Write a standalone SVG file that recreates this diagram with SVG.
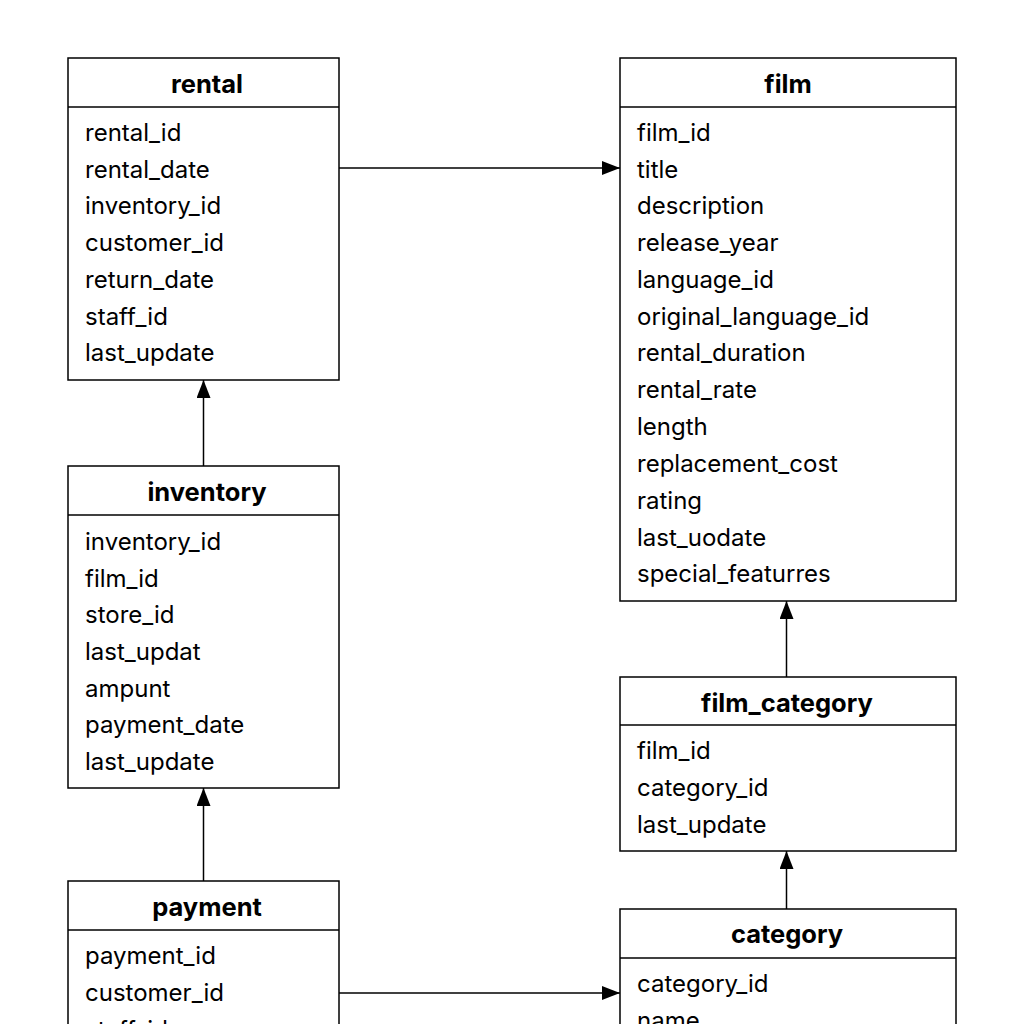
<svg xmlns="http://www.w3.org/2000/svg" width="1024" height="1024" viewBox="0 0 1024 1024">
<defs>
<marker id="arr" viewBox="0 0 18 14" refX="18" refY="7" markerWidth="18" markerHeight="14" markerUnits="userSpaceOnUse" orient="auto">
<path d="M0,0 L18,7 L0,14 z" fill="#000"/>
</marker>
<style>
.box{fill:#fff;stroke:#000;stroke-width:1.5}
.sep{stroke:#000;stroke-width:1.5}
.t{font-family:Inter,"Liberation Sans",sans-serif;font-size:25.5px;font-weight:bold;text-anchor:middle;dominant-baseline:central;fill:#000}
.f{font-family:Inter,"Liberation Sans",sans-serif;font-size:24px;dominant-baseline:central;fill:#000}
.c{stroke:#000;stroke-width:1.5;fill:none;marker-end:url(#arr)}
</style>
</defs>
<rect width="1024" height="1024" fill="#fff"/>
<g id="connectors">
<line class="c" x1="339" y1="168" x2="620" y2="168"/>
<line class="c" x1="203.5" y1="466" x2="203.5" y2="380"/>
<line class="c" x1="203.5" y1="881" x2="203.5" y2="788"/>
<line class="c" x1="786.5" y1="677" x2="786.5" y2="601"/>
<line class="c" x1="786.5" y1="909" x2="786.5" y2="851"/>
<line class="c" x1="339" y1="993" x2="620" y2="993"/>
</g>
<g id="rental">
<rect class="box" x="68" y="58" width="271" height="322"/>
<line class="sep" x1="68" y1="107" x2="339" y2="107"/>
<text class="t" x="207" y="83">rental</text>
<text class="f" x="85" y="132">rental_id</text>
<text class="f" x="85" y="169">rental_date</text>
<text class="f" x="85" y="205">inventory_id</text>
<text class="f" x="85" y="242">customer_id</text>
<text class="f" x="85" y="279">return_date</text>
<text class="f" x="85" y="316">staff_id</text>
<text class="f" x="85" y="352">last_update</text>
</g>
<g id="film">
<rect class="box" x="620" y="58" width="336" height="543"/>
<line class="sep" x1="620" y1="107" x2="956" y2="107"/>
<text class="t" x="788" y="83">film</text>
<text class="f" x="637" y="132">film_id</text>
<text class="f" x="637" y="169">title</text>
<text class="f" x="637" y="205">description</text>
<text class="f" x="637" y="242">release_year</text>
<text class="f" x="637" y="279">language_id</text>
<text class="f" x="637" y="316">original_language_id</text>
<text class="f" x="637" y="352">rental_duration</text>
<text class="f" x="637" y="389">rental_rate</text>
<text class="f" x="637" y="426">length</text>
<text class="f" x="637" y="463">replacement_cost</text>
<text class="f" x="637" y="500">rating</text>
<text class="f" x="637" y="537">last_uodate</text>
<text class="f" x="637" y="573">special_featurres</text>
</g>
<g id="inventory">
<rect class="box" x="68" y="466" width="271" height="322"/>
<line class="sep" x1="68" y1="515" x2="339" y2="515"/>
<text class="t" x="207" y="491">inventory</text>
<text class="f" x="85" y="541">inventory_id</text>
<text class="f" x="85" y="578">film_id</text>
<text class="f" x="85" y="614">store_id</text>
<text class="f" x="85" y="651">last_updat</text>
<text class="f" x="85" y="688">ampunt</text>
<text class="f" x="85" y="724">payment_date</text>
<text class="f" x="85" y="761">last_update</text>
</g>
<g id="film_category">
<rect class="box" x="620" y="677" width="336" height="174"/>
<line class="sep" x1="620" y1="725" x2="956" y2="725"/>
<text class="t" x="787" y="702">film_category</text>
<text class="f" x="637" y="750">film_id</text>
<text class="f" x="637" y="787">category_id</text>
<text class="f" x="637" y="824">last_update</text>
</g>
<g id="payment">
<rect class="box" x="68" y="881" width="271" height="200"/>
<line class="sep" x1="68" y1="930" x2="339" y2="930"/>
<text class="t" x="207" y="906">payment</text>
<text class="f" x="85" y="955">payment_id</text>
<text class="f" x="85" y="992">customer_id</text>
<text class="f" x="85" y="1029">staff_id</text>
</g>
<g id="category">
<rect class="box" x="620" y="909" width="336" height="200"/>
<line class="sep" x1="620" y1="958" x2="956" y2="958"/>
<text class="t" x="787" y="933">category</text>
<text class="f" x="637" y="983">category_id</text>
<text class="f" x="637" y="1020">name</text>
</g>
</svg>
